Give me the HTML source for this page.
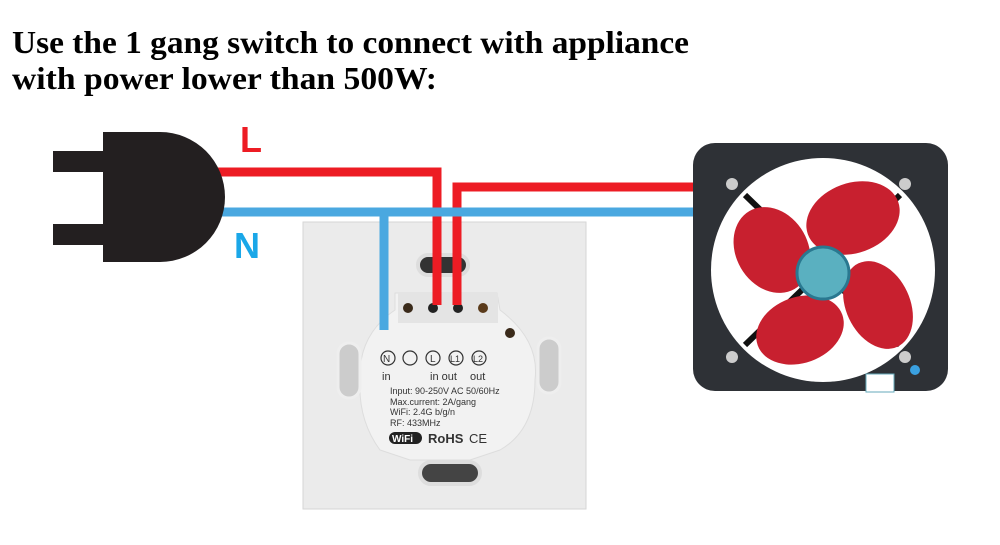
<!DOCTYPE html>
<html><head><meta charset="utf-8"><style>
body{margin:0;background:#fff;width:1000px;height:545px;overflow:hidden}
svg{display:block}
</style></head><body>
<svg width="1000" height="545" viewBox="0 0 1000 545" xmlns="http://www.w3.org/2000/svg">
<rect width="1000" height="545" fill="#fff"/>
<text x="12" y="53" textLength="677" lengthAdjust="spacingAndGlyphs" font-family="Liberation Serif, serif" font-weight="bold" font-size="32" fill="#000">Use the 1 gang switch to connect with appliance</text>
<text x="12" y="89" textLength="425" lengthAdjust="spacingAndGlyphs" font-family="Liberation Serif, serif" font-weight="bold" font-size="32" fill="#000">with power lower than 500W:</text>

<!-- switch plate -->
<rect x="303" y="222" width="283" height="287" fill="#ebebeb" stroke="#d6d6d6"/>
<rect x="418" y="255" width="50" height="20" rx="10" fill="#333" stroke="#ddd" stroke-width="4"/>
<path d="M395 293 L497 293 L500 310 Q540 340 535 380 Q535 430 500 450 L470 460 L410 460 L380 450 Q358 420 360 380 Q358 335 395 310 Z" fill="#f2f2f2" stroke="#ddd"/>
<rect x="398" y="293" width="100" height="30" fill="#e4e4e4"/>
<circle cx="408" cy="308" r="5" fill="#3a2a1a"/><circle cx="433" cy="308" r="5" fill="#222"/><circle cx="458" cy="308" r="5" fill="#222"/><circle cx="483" cy="308" r="5" fill="#5a3a1a"/>
<circle cx="510" cy="333" r="5" fill="#3a2a1a"/>
<rect x="338" y="343" width="22" height="55" rx="11" fill="#ccc" stroke="#eee" stroke-width="3"/>
<rect x="538" y="338" width="22" height="55" rx="11" fill="#ccc" stroke="#eee" stroke-width="3"/>
<rect x="420" y="462" width="60" height="22" rx="11" fill="#444" stroke="#ddd" stroke-width="4"/>
<g fill="none" stroke="#333" stroke-width="1.2">
<circle cx="388" cy="358" r="7"/><circle cx="410" cy="358" r="7"/><circle cx="433" cy="358" r="7"/><circle cx="456" cy="358" r="7"/><circle cx="479" cy="358" r="7"/>
</g>
<g font-family="Liberation Sans, sans-serif" fill="#333">
<text x="383" y="362" font-size="10">N</text><text x="430" y="362" font-size="10">L</text><text x="450" y="362" font-size="9">L1</text><text x="473" y="362" font-size="9">L2</text>
<text x="382" y="380" font-size="11">in</text><text x="430" y="380" font-size="11">in out</text><text x="470" y="380" font-size="11">out</text>
<text x="390" y="394" font-size="9">Input: 90-250V AC 50/60Hz</text>
<text x="390" y="405" font-size="9">Max.current: 2A/gang</text>
<text x="390" y="415" font-size="9">WiFi: 2.4G b/g/n</text>
<text x="390" y="426" font-size="9">RF: 433MHz</text>
<rect x="389" y="432" width="33" height="12" rx="6" fill="#222"/>
<text x="392" y="442" font-size="10" font-weight="bold" fill="#fff">WiFi</text>
<text x="428" y="443" font-size="13" font-weight="bold">RoHS</text>
<text x="469" y="443" font-size="13">CE</text>
</g>

<!-- fan -->
<rect x="693" y="143" width="255" height="248" rx="22" fill="#2e3136"/>
<circle cx="823" cy="270" r="112" fill="#fff"/>
<g stroke="#111" stroke-width="6"><line x1="745" y1="195" x2="900" y2="345"/><line x1="900" y1="195" x2="745" y2="345"/></g>
<g fill="#c8202f">
<ellipse cx="772" cy="250" rx="36" ry="45" transform="rotate(-30 772 250)"/>
<ellipse cx="853" cy="218" rx="48" ry="35" transform="rotate(-20 853 218)"/>
<ellipse cx="878" cy="305" rx="32" ry="46" transform="rotate(-25 878 305)"/>
<ellipse cx="800" cy="330" rx="45" ry="33" transform="rotate(-20 800 330)"/>
</g>
<circle cx="823" cy="273" r="26" fill="#5ab0c0" stroke="#2a7890" stroke-width="3"/>
<g fill="#ccc"><circle cx="732" cy="184" r="6"/><circle cx="905" cy="184" r="6"/><circle cx="732" cy="357" r="6"/><circle cx="905" cy="357" r="6"/></g>
<circle cx="915" cy="370" r="5" fill="#3aa0e0"/>
<rect x="866" y="374" width="28" height="18" fill="#fff" stroke="#6ab"/>

<!-- wires -->
<g fill="none" stroke-linejoin="miter">
<path d="M215 172 H437 V305" stroke="#ed1c24" stroke-width="9"/>
<path d="M693 187 H457 V305" stroke="#ed1c24" stroke-width="9"/>
<path d="M215 212 H693" stroke="#4aa8e0" stroke-width="9"/>
<path d="M384 212 V330" stroke="#4aa8e0" stroke-width="9"/>
</g>

<!-- plug -->
<rect x="53" y="151" width="55" height="21" fill="#231f20"/>
<rect x="53" y="224" width="55" height="21" fill="#231f20"/>
<path d="M103 132 H160 A65 65 0 0 1 160 262 H103 Z" fill="#231f20"/>

<text x="240" y="152" font-family="Liberation Sans, sans-serif" font-weight="bold" font-size="36" fill="#ed1c24">L</text>
<text x="234" y="258" font-family="Liberation Sans, sans-serif" font-weight="bold" font-size="36" fill="#1aa7e8">N</text>
</svg>
</body></html>
